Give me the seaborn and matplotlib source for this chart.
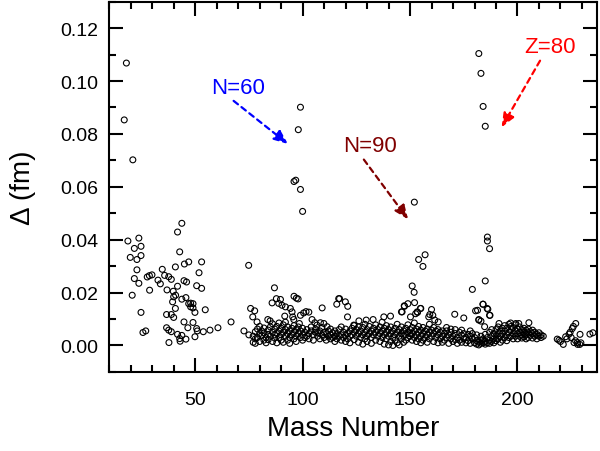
import matplotlib
matplotlib.use("Agg")
import matplotlib.pyplot as plt
import pandas as pd
import seaborn as sns
from matplotlib.ticker import MultipleLocator, FormatStrFormatter

# ------------------------------
# data: (mass number, delta in fm)
# ------------------------------
light_nuclei = [
    (17, 0.0853), (18, 0.1068), (21, 0.0702),
    (18.7, 0.0395), (23.8, 0.0406), (21.7, 0.0367), (24.8, 0.0375), (19.8, 0.0333),
    (22.9, 0.0325), (24.8, 0.0340), (22.9, 0.0286), (21.7, 0.0253), (23.8, 0.0235),
    (20.7, 0.0190), (24.8, 0.0125), (25.7, 0.0049), (27, 0.0055), (27.7, 0.0259),
    (28.7, 0.0264), (29.9, 0.0267), (28.8, 0.0209), (32.7, 0.0247), (33.8, 0.0233),
    (34.7, 0.0288), (35.8, 0.0265), (37.7, 0.0260), (38.9, 0.0250), (36.9, 0.0210),
    (39.8, 0.0205), (41.8, 0.0224), (40.8, 0.0297), (42.8, 0.0354), (41.8, 0.0429),
    (43.8, 0.0462), (45, 0.0308), (47, 0.0316), (44.8, 0.0245), (46, 0.0240),
    (40, 0.0184), (40.9, 0.0190), (39.5, 0.0165), (43.8, 0.0175), (45.7, 0.0181),
    (47, 0.0158), (47.9, 0.0160), (49, 0.0158), (47.9, 0.0146), (49, 0.0142),
    (49.9, 0.0125), (40.8, 0.0140), (36.7, 0.0117), (38.9, 0.0117), (40, 0.0106),
    (44.8, 0.0089), (49, 0.0087), (46.6, 0.0067), (36.7, 0.0067), (37.7, 0.0058),
    (38.9, 0.0052), (41.8, 0.0042), (43.8, 0.0038), (42.8, 0.0026), (43, 0.0016),
    (45.7, 0.0024), (37.8, 0.0011), (49.9, 0.0033), (50.7, 0.0064), (51, 0.0055),
    (53.8, 0.0052), (56.9, 0.0058), (60.6, 0.0067), (51.8, 0.0275), (53, 0.0316),
    (50.7, 0.0226), (53, 0.0216), (54.7, 0.0135), (66.7, 0.0089), (72.7, 0.0055),
    (74.9, 0.0303),
]

shell_spikes = [
    # N=60
    (96, 0.0620), (96.8, 0.0625), (99, 0.0590), (100, 0.0507), (98, 0.0816), (99, 0.0901),
    # N=90
    (152, 0.0542), (154, 0.0325), (157, 0.0343), (156, 0.0299),
    # Z=80
    (182, 0.1104), (183, 0.1029), (184, 0.0904), (185, 0.0829), (186, 0.0410),
    (186, 0.0395), (187, 0.0366), (185, 0.0244), (179, 0.0212),
]

mid_scatter = [
    (75.8, 0.0140), (77.7, 0.0131), (76.8, 0.0108), (78.8, 0.0089), (83.8, 0.0098),
    (84.9, 0.0093), (86.9, 0.0218), (87.8, 0.0177), (89.7, 0.0174), (85.8, 0.0161),
    (88.9, 0.0159), (90.4, 0.0152), (92, 0.0146), (94.3, 0.0140), (95.1, 0.0127),
    (96, 0.0186), (97.1, 0.0179), (97.9, 0.0176), (95.4, 0.0108), (95.9, 0.0098),
    (99, 0.0114), (100.5, 0.0123), (101.6, 0.0128), (102.9, 0.0126), (98.5, 0.0083),
    (91.7, 0.0111), (109.1, 0.0142), (116.8, 0.0177), (115.9, 0.0156), (119.9, 0.0165),
    (121, 0.0148), (120.9, 0.0108), (104.4, 0.0098), (105.7, 0.0086), (106.7, 0.0077),
    (108.3, 0.0086), (109.9, 0.0083), (111.4, 0.0071), (117.2, 0.0177), (123.8, 0.0077),
    (126.2, 0.0093), (129.6, 0.0096), (132.8, 0.0098), (137.8, 0.0108), (140.9, 0.0111),
    (146.3, 0.0127), (147.4, 0.0148), (149, 0.0158), (151, 0.0225), (151.9, 0.0201),
    (152.1, 0.0162), (150.2, 0.0108), (152.6, 0.0120), (146, 0.0127), (147.3, 0.0150),
    (153.3, 0.0127), (154.8, 0.0140), (155, 0.0140), (153.5, 0.0125), (158.7, 0.0108),
    (159.2, 0.0117), (160, 0.0136), (160.6, 0.0114), (161.5, 0.0096), (163.1, 0.0089),
    (170.8, 0.0118), (175, 0.0104), (180.5, 0.0131), (181.4, 0.0133), (183.9, 0.0156),
    (185.9, 0.0140), (187, 0.0114), (182, 0.0098), (184, 0.0156), (186.2, 0.0137),
    (187.2, 0.0114), (182, 0.0096), (183, 0.0092), (184.7, 0.0071), (191.4, 0.0083),
    (196.8, 0.0085), (199.2, 0.0083), (205.3, 0.0086), (200.6, 0.0083),
]

band = {
    75: [0.0040], 77: [0.0035, 0.0012], 78: [0.0052, 0.0025, 0.0008],
    79: [0.0062, 0.0030], 80: [0.0045, 0.0015, 0.0072], 81: [0.0038, 0.0055],
    82: [0.0020, 0.0048, 0.0066], 83: [0.0030, 0.0010], 84: [0.0058, 0.0042, 0.0022],
    85: [0.0035, 0.0070], 86: [0.0050, 0.0015, 0.0082], 87: [0.0062, 0.0028, 0.0040],
    88: [0.0045, 0.0072, 0.0010], 89: [0.0055, 0.0030, 0.0085], 90: [0.0040, 0.0065, 0.0020],
    91: [0.0050, 0.0078, 0.0012], 92: [0.0035, 0.0060, 0.0088], 93: [0.0045, 0.0020, 0.0070],
    94: [0.0055, 0.0030, 0.0008], 95: [0.0040, 0.0065], 96: [0.0050, 0.0025, 0.0075],
    97: [0.0035, 0.0060, 0.0015], 98: [0.0045, 0.0070], 99: [0.0055, 0.0030],
    100: [0.0040, 0.0065, 0.0020], 101: [0.0050, 0.0030], 102: [0.0060, 0.0035],
    103: [0.0045, 0.0025], 104: [0.0055, 0.0070], 105: [0.0040, 0.0020],
    106: [0.0050, 0.0062], 107: [0.0035, 0.0048], 108: [0.0055, 0.0025],
    109: [0.0040, 0.0068], 110: [0.0030, 0.0050], 111: [0.0045, 0.0020],
    112: [0.0055, 0.0035], 113: [0.0040, 0.0025, 0.0062], 114: [0.0048, 0.0030],
    115: [0.0035, 0.0055, 0.0015], 116: [0.0045, 0.0025], 117: [0.0060, 0.0035],
    118: [0.0040, 0.0020, 0.0070], 119: [0.0050, 0.0030], 120: [0.0038, 0.0015, 0.0062],
    121: [0.0045, 0.0025], 122: [0.0055, 0.0035, 0.0010], 123: [0.0040, 0.0065],
    124: [0.0050, 0.0022, 0.0075], 125: [0.0035, 0.0060], 126: [0.0045, 0.0012, 0.0070],
    127: [0.0055, 0.0030], 128: [0.0040, 0.0005, 0.0068], 129: [0.0050, 0.0025, 0.0080],
    130: [0.0035, 0.0060, 0.0015], 131: [0.0045, 0.0072], 132: [0.0055, 0.0030, 0.0008],
    133: [0.0040, 0.0065], 134: [0.0050, 0.0020, 0.0078], 135: [0.0035, 0.0060],
    136: [0.0045, 0.0015, 0.0070], 137: [0.0055, 0.0030, 0.0088], 138: [0.0040, 0.0005, 0.0065],
    139: [0.0050, 0.0025, 0.0075], 140: [0.0035, 0.0002, 0.0060], 141: [0.0045, 0.0015, 0.0070],
    142: [0.0055, 0.0030, 0.0000], 143: [0.0040, 0.0020, 0.0065], 144: [0.0050, 0.0010, 0.0080],
    145: [0.0035, 0.0060, 0.0002], 146: [0.0045, 0.0025, 0.0070], 147: [0.0055, 0.0012, 0.0038],
    148: [0.0040, 0.0065, 0.0020], 149: [0.0050, 0.0030, 0.0078], 150: [0.0035, 0.0060, 0.0045],
    151: [0.0045, 0.0020, 0.0068], 152: [0.0055, 0.0030, 0.0085], 153: [0.0040, 0.0015, 0.0062],
    154: [0.0050, 0.0025, 0.0072], 155: [0.0035, 0.0058, 0.0010], 156: [0.0045, 0.0020, 0.0068],
    157: [0.0055, 0.0030], 158: [0.0040, 0.0012, 0.0062], 159: [0.0050, 0.0025, 0.0080],
    160: [0.0035, 0.0058], 161: [0.0045, 0.0015, 0.0068], 162: [0.0055, 0.0030],
    163: [0.0040, 0.0010, 0.0060], 164: [0.0050, 0.0025], 165: [0.0035, 0.0055, 0.0012],
    166: [0.0045, 0.0020], 167: [0.0055, 0.0030, 0.0068], 168: [0.0040, 0.0008],
    169: [0.0050, 0.0025, 0.0062], 170: [0.0035, 0.0015], 171: [0.0045, 0.0060, 0.0022],
    172: [0.0030, 0.0008], 173: [0.0050, 0.0020], 174: [0.0038, 0.0012, 0.0058],
    175: [0.0045, 0.0025], 176: [0.0030, 0.0010], 177: [0.0042, 0.0018],
    178: [0.0035, 0.0008, 0.0055], 179: [0.0025, 0.0045], 180: [0.0010, 0.0030],
    181: [0.0005, 0.0018, 0.0040], 182: [0.0012, 0.0002], 183: [0.0020, 0.0008, 0.0035],
    184: [0.0010, 0.0025], 185: [0.0015, 0.0005, 0.0042], 186: [0.0010, 0.0030],
    187: [0.0020, 0.0050, 0.0008], 188: [0.0035, 0.0015, 0.0060], 189: [0.0025, 0.0045, 0.0010],
    190: [0.0035, 0.0060, 0.0018], 191: [0.0045, 0.0025, 0.0070], 192: [0.0035, 0.0055, 0.0012],
    193: [0.0045, 0.0065, 0.0020], 194: [0.0055, 0.0030, 0.0075], 195: [0.0040, 0.0065, 0.0018],
    196: [0.0050, 0.0030, 0.0080], 197: [0.0060, 0.0035, 0.0072], 198: [0.0045, 0.0025, 0.0068],
    199: [0.0055, 0.0035, 0.0078], 200: [0.0045, 0.0062, 0.0025], 201: [0.0050, 0.0035, 0.0070],
    202: [0.0040, 0.0060, 0.0028], 203: [0.0050, 0.0032, 0.0065], 204: [0.0040, 0.0058, 0.0025],
    205: [0.0048, 0.0030, 0.0062], 206: [0.0038, 0.0052], 207: [0.0045, 0.0028, 0.0058],
    208: [0.0035, 0.0050], 209: [0.0042, 0.0025], 210: [0.0035, 0.0048],
    211: [0.0030, 0.0040], 212: [0.0035],
}

heavy_tail = [
    (218.5, 0.0024), (219.3, 0.0020), (220, 0.0015), (221.3, 0.0004), (222.4, 0.0033),
    (223, 0.0025), (224, 0.0043), (224.5, 0.0050), (225, 0.0030), (225.5, 0.0064),
    (226, 0.0072), (226.3, 0.0011), (227, 0.0018), (227.1, 0.0083), (227.8, 0.0011),
    (228, 0.0004), (229, 0.0004), (229.1, 0.0042), (229.5, 0.0010),
    (233.7, 0.0043), (235.1, 0.0048),
]

# labels and arrows: (text, text pos, arrow start, arrow end, colour)
notes = [
    ("N=60", (69.8, 0.0977), (67.9, 0.0925), (93.2, 0.0762), "#0000ff"),
    ("N=90", (131.3, 0.0755), (128.5, 0.0703), (149.1, 0.0477), "#800000"),
    ("Z=80", (215.1, 0.1132), (210.5, 0.1077), (192.6, 0.0825), "#ff0000"),
]

# ------------------------------
# build dataframe
# ------------------------------
rows = light_nuclei + shell_spikes + mid_scatter + heavy_tail
for a, ds in band.items():
    rows += [(a, d) for d in ds]
df = pd.DataFrame(rows, columns=["A", "delta"])

# ------------------------------
# plot
# ------------------------------
sns.set_style("ticks", {"axes.edgecolor": "black", "xtick.color": "black",
                        "ytick.color": "black", "text.color": "black",
                        "axes.labelcolor": "black"})
plt.rcParams["font.family"] = ["Liberation Sans", "DejaVu Sans"]

fig = plt.figure(figsize=(6, 4.52), dpi=100)
ax = fig.add_axes([0.182, 0.175, 0.813, 0.819])

sns.scatterplot(data=df, x="A", y="delta", ax=ax, marker="o", s=18,
                facecolor="none", edgecolor="black", linewidth=0.8, legend=False)

for label, tpos, start, end, col in notes:
    ax.text(tpos[0], tpos[1], label, color=col, fontsize=16, ha="center", va="center")
    ax.annotate("", xy=end, xytext=start,
                arrowprops=dict(arrowstyle="-|>,head_length=0.6,head_width=0.25",
                                color=col, lw=1.6, linestyle=(0, (2.5, 2)),
                                mutation_scale=14, shrinkA=0, shrinkB=0))

ax.set_xlim(10, 237)
ax.set_ylim(-0.01, 0.13)
ax.xaxis.set_major_locator(MultipleLocator(50))
ax.xaxis.set_minor_locator(MultipleLocator(10))
ax.yaxis.set_major_locator(MultipleLocator(0.02))
ax.yaxis.set_minor_locator(MultipleLocator(0.01))
ax.yaxis.set_major_formatter(FormatStrFormatter("%.2f"))

ax.tick_params(which="both", direction="in", top=True, right=True, bottom=True, left=True,
               width=1.5, color="black", labelsize=14)
ax.tick_params(which="major", length=10)
ax.tick_params(which="minor", length=5)
ax.tick_params(axis="x", pad=14)
ax.tick_params(axis="y", pad=8)
for sp in ax.spines.values():
    sp.set_visible(True)
    sp.set_color("black")
    sp.set_linewidth(1.5)

ax.set_xlabel("Mass Number", fontsize=20, labelpad=5)
ax.set_ylabel("Δ (fm)", fontsize=20, labelpad=17)

fig.savefig("out.png", dpi=100)
